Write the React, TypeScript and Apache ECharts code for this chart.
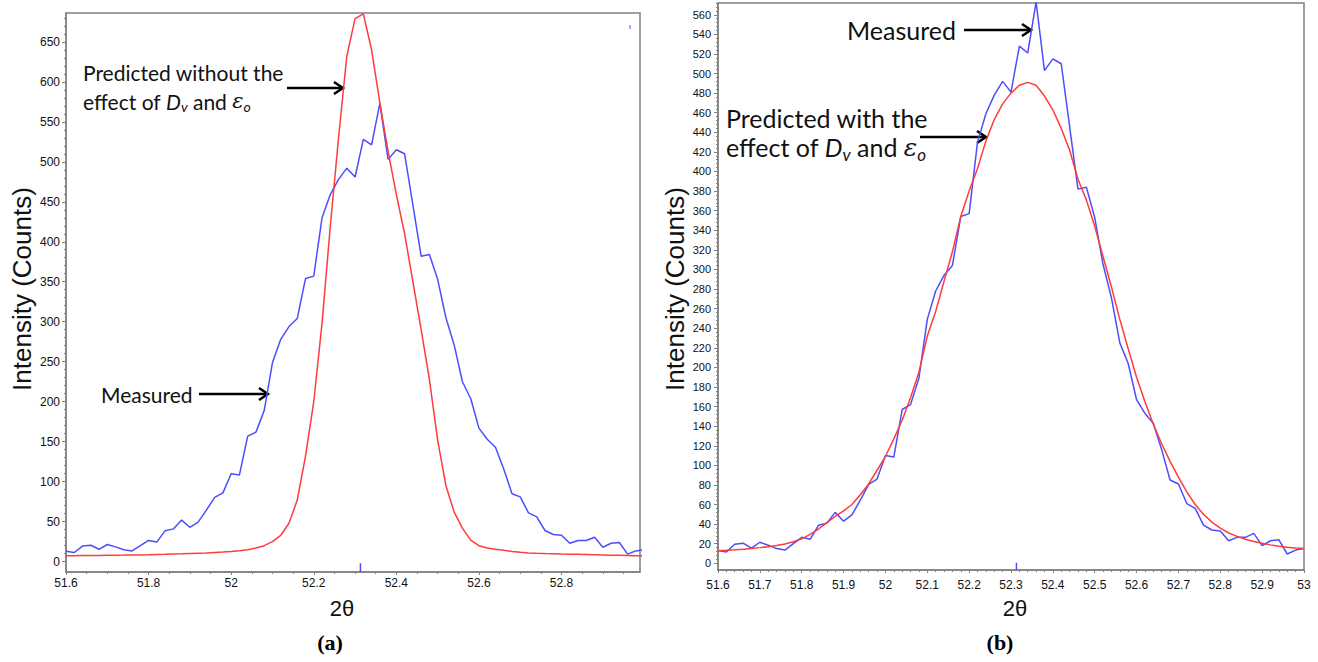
import React, { useEffect, useRef } from "react";
import * as echarts from "echarts";

// 2-theta sampling positions (degrees)
const theta = [
  51.6, 51.62, 51.64, 51.66, 51.68, 51.7, 51.72, 51.74, 51.76, 51.78,
  51.8, 51.82, 51.84, 51.86, 51.88, 51.9, 51.92, 51.94, 51.96, 51.98,
  52.0, 52.02, 52.04, 52.06, 52.08, 52.1, 52.12, 52.14, 52.16, 52.18,
  52.2, 52.22, 52.24, 52.26, 52.28, 52.3, 52.32, 52.34, 52.36, 52.38,
  52.4, 52.42, 52.44, 52.46, 52.48, 52.5, 52.52, 52.54, 52.56, 52.58,
  52.6, 52.62, 52.64, 52.66, 52.68, 52.7, 52.72, 52.74, 52.76, 52.78,
  52.8, 52.82, 52.84, 52.86, 52.88, 52.9, 52.92, 52.94, 52.96, 52.98,
  53.0,
];

// Measured intensity (counts) – same profile in both panels
const measured = [
  13, 11.5, 19.5, 20.5, 15.5, 21.5, 18.5, 15, 13.5, 20,
  26.5, 24.5, 38.8, 41, 52, 43, 49.5, 64.5, 80.5, 86,
  110, 108.5, 157, 162, 189, 249, 278, 294, 304, 354,
  357, 430, 459, 478, 492, 481, 528, 521, 573, 503,
  515, 510, 446, 382, 384, 353, 305, 271, 225, 204,
  167, 153, 143, 116, 85, 81, 61, 56, 39, 34,
  33, 23, 26.5, 26.5, 30.5, 18, 23, 24, 9.5, 13.5,
  15,
];

// (a) Predicted without the effect of Dv and eps_o
const predictedA = [
  7.5, 7.5, 7.6, 7.7, 7.8, 8.0, 8.1, 8.2, 8.4, 8.5,
  8.7, 9.0, 9.2, 9.5, 9.8, 10.2, 10.6, 11.0, 11.5, 12.0,
  12.8, 13.8, 15.0, 17, 20, 25, 33, 48, 77, 132,
  200, 298, 419, 530, 632, 679, 685, 640, 574, 513,
  459, 410, 350, 290, 228, 152, 95, 62, 42, 27,
  20, 17, 15.5, 14.3, 12.8, 11.8, 11.0, 10.5, 10.1, 9.8,
  9.5, 9.3, 9.2, 9.0, 8.7, 8.4, 8.1, 7.9, 7.7, 7.5,
  7.4,
];

// (b) Predicted with the effect of Dv and eps_o
const predictedB = [
  12.9, 13.3, 13.8, 14.4, 15.1, 16.0, 17.0, 18.2, 19.7, 22,
  25, 29.5, 35, 41.5, 48, 53.5, 60, 70, 81, 95,
  109, 127, 146, 169, 195, 232, 257, 288, 318, 354,
  380, 403, 431, 453, 469, 480, 488, 491, 488, 477,
  463, 444, 422, 392, 371, 344, 313, 282, 249, 219,
  190, 165, 142, 122, 104, 88, 73, 60, 50, 42,
  36, 31, 27.5, 24.5, 22.3, 20.5, 18.8, 17.3, 16.3, 15.5,
  15,
];

// peak-position marker
const markerTheta = 52.313;

// tick labels
const xTicksA = [51.6, 51.8, 52.0, 52.2, 52.4, 52.6, 52.8];
const yTicksA = [0, 50, 100, 150, 200, 250, 300, 350, 400, 450, 500, 550, 600, 650];
const xTicksB = [51.6, 51.7, 51.8, 51.9, 52.0, 52.1, 52.2, 52.3, 52.4, 52.5, 52.6, 52.7, 52.8, 52.9, 53.0];
const yTicksB = [
  0, 20, 40, 60, 80, 100, 120, 140, 160, 180, 200, 220, 240, 260, 280,
  300, 320, 340, 360, 380, 400, 420, 440, 460, 480, 500, 520, 540, 560,
];

const AXIS_GREY = "#808080";
const BLUE = "#4d4dff";
const RED = "#ff3b3b";
const TICK_FONT = "'Liberation Sans', Arial, sans-serif";
const NOTE_FONT = "Lato, 'Open Sans', sans-serif";

function steps(from: number, to: number, step: number): number[] {
  const out: number[] = [];
  const n = Math.round((to - from) / step);
  for (let i = 0; i <= n; i++) out.push(+(from + i * step).toFixed(4));
  return out;
}

const fmt = (v: number) => String(Math.round(v * 10) / 10);

function xAxes(gridIndex: number, min: number, max: number, labels: number[], minors: number[], margin: number) {
  return [
    {
      type: "value", gridIndex, min, max, position: "bottom",
      axisLine: { show: true, onZero: false, lineStyle: { color: AXIS_GREY, width: 1.5 } },
      axisTick: { show: true, customValues: labels, length: 3, lineStyle: { color: AXIS_GREY } },
      axisLabel: { customValues: labels, formatter: fmt, fontSize: 12, color: "#111", margin, fontFamily: TICK_FONT },
      splitLine: { show: false },
    },
    {
      type: "value", gridIndex, min, max, position: "bottom",
      axisLine: { show: false, onZero: false },
      axisTick: { show: true, customValues: minors, length: 2, lineStyle: { color: AXIS_GREY } },
      axisLabel: { show: false },
      splitLine: { show: false },
    },
  ];
}

function yAxes(gridIndex: number, min: number, max: number, labels: number[], minors: number[], fontSize: number, margin: number) {
  return [
    {
      type: "value", gridIndex, min, max, position: "left",
      axisLine: { show: true, onZero: false, lineStyle: { color: AXIS_GREY, width: 1.5 } },
      axisTick: { show: true, customValues: labels, length: 4, lineStyle: { color: AXIS_GREY } },
      axisLabel: { customValues: labels, fontSize, color: "#111", margin, fontFamily: TICK_FONT },
      splitLine: { show: false },
    },
    {
      type: "value", gridIndex, min, max, position: "left",
      axisLine: { show: false, onZero: false },
      axisTick: { show: true, customValues: minors, length: 2, lineStyle: { color: AXIS_GREY } },
      axisLabel: { show: false },
      splitLine: { show: false },
    },
  ];
}

function arrow(x1: number, x2: number, y: number) {
  return [
    { type: "line", shape: { x1, y1: y, x2: x2 - 1, y2: y }, style: { stroke: "#000", lineWidth: 2.5 } },
    {
      type: "polyline",
      shape: { points: [[x2 - 9, y - 6], [x2, y], [x2 - 9, y + 6]] },
      style: { stroke: "#000", lineWidth: 2.5, fill: null },
    },
  ];
}

function noteLine2(x: number, y: number, size: number) {
  const sub = Math.round(size * 0.68);
  const lh = size + 4;
  return {
    type: "text",
    x, y,
    style: {
      text: "{n|effect of }{i|D}{s|v}{n| and }{e|ε}{s|o}",
      verticalAlign: "middle",
      align: "left",
      rich: {
        n: { fontSize: size, fontFamily: NOTE_FONT, fill: "#111", lineHeight: lh },
        i: { fontSize: size, fontFamily: NOTE_FONT, fontStyle: "italic", fill: "#111", lineHeight: lh },
        e: { fontSize: size, fontFamily: "'DejaVu Serif', serif", fontStyle: "italic", fill: "#111", lineHeight: lh },
        s: {
          fontSize: sub, fontFamily: NOTE_FONT, fontStyle: "italic", fill: "#111",
          verticalAlign: "top", lineHeight: sub, padding: [Math.round(size * 0.5), 0, 0, 0],
        },
      },
    },
  };
}

function text(x: number, y: number, t: string, size: number, family: string) {
  return {
    type: "text", x, y,
    style: { text: t, fontSize: size, fontFamily: family, fill: "#111", align: "left", verticalAlign: "middle" },
  };
}

export default function App() {
  const ref = useRef<HTMLDivElement>(null);

  useEffect(() => {
    if (!ref.current) return;
    const chart = echarts.init(ref.current, null, { renderer: "svg" });

    const pair = (ys: number[]) => theta.map((t, i) => [t, ys[i]]);

    const yMinA = -12.9, yMaxA = 686;
    const yMinB = -6.84, yMaxB = 572;

    const option: any = {
      animation: false,
      backgroundColor: "#fff",
      grid: [
        { left: 66, top: 13, width: 574, height: 559, show: true, borderColor: AXIS_GREY, borderWidth: 1.5, containLabel: false, outerBoundsMode: "none" },
        { left: 718, top: 3, width: 586, height: 567, show: true, borderColor: AXIS_GREY, borderWidth: 1.5, containLabel: false, outerBoundsMode: "none" },
      ],
      xAxis: [
        ...xAxes(0, 51.6, 52.99, xTicksA, steps(51.6, 52.95, 0.05), 5),
        ...xAxes(1, 51.6, 53.0, xTicksB, steps(51.6, 53.0, 0.02), 9),
      ],
      yAxis: [
        ...yAxes(0, yMinA, yMaxA, yTicksA, steps(0, 680, 10), 12, 6),
        ...yAxes(1, yMinB, yMaxB, yTicksB, steps(0, 572, 4), 11, 7),
      ],
      series: [
        { type: "line", xAxisIndex: 0, yAxisIndex: 0, data: pair(measured), showSymbol: false, symbol: "none", lineStyle: { color: BLUE, width: 1.5 }, itemStyle: { color: BLUE }, z: 3 },
        { type: "line", xAxisIndex: 0, yAxisIndex: 0, data: pair(predictedA), showSymbol: false, symbol: "none", lineStyle: { color: RED, width: 1.5 }, itemStyle: { color: RED }, z: 4 },
        { type: "line", xAxisIndex: 0, yAxisIndex: 0, data: [[markerTheta, yMinA], [markerTheta, -2]], symbol: "none", lineStyle: { color: BLUE, width: 1.5 }, z: 5 },
        { type: "line", xAxisIndex: 2, yAxisIndex: 2, data: pair(measured), showSymbol: false, symbol: "none", lineStyle: { color: BLUE, width: 1.5 }, itemStyle: { color: BLUE }, z: 3 },
        { type: "line", xAxisIndex: 2, yAxisIndex: 2, data: pair(predictedB), showSymbol: false, symbol: "none", lineStyle: { color: RED, width: 1.5 }, itemStyle: { color: RED }, z: 4 },
        { type: "line", xAxisIndex: 2, yAxisIndex: 2, data: [[markerTheta, yMinB], [markerTheta, 0.5]], symbol: "none", lineStyle: { color: BLUE, width: 1.5 }, z: 5 },
      ],
      graphic: [
        // axis titles
        { type: "text", x: 22, y: 289, rotation: Math.PI / 2, style: { text: "Intensity (Counts)", fontSize: 26, fontFamily: TICK_FONT, fill: "#111", align: "center", verticalAlign: "middle" } },
        { type: "text", x: 675, y: 289, rotation: Math.PI / 2, style: { text: "Intensity (Counts)", fontSize: 26, fontFamily: TICK_FONT, fill: "#111", align: "center", verticalAlign: "middle" } },
        { type: "text", x: 342, y: 608, style: { text: "2θ", fontSize: 22, fontFamily: TICK_FONT, fill: "#111", align: "center", verticalAlign: "middle" } },
        { type: "text", x: 1015, y: 608, style: { text: "2θ", fontSize: 22, fontFamily: TICK_FONT, fill: "#111", align: "center", verticalAlign: "middle" } },
        { type: "text", x: 330, y: 642, style: { text: "(a)", fontSize: 22, fontWeight: "bold", fontFamily: "'Liberation Serif', serif", fill: "#000", align: "center", verticalAlign: "middle" } },
        { type: "text", x: 1000, y: 642, style: { text: "(b)", fontSize: 22, fontWeight: "bold", fontFamily: "'Liberation Serif', serif", fill: "#000", align: "center", verticalAlign: "middle" } },
        // small stray mark in panel (a)
        { type: "line", shape: { x1: 630, y1: 25, x2: 630, y2: 29 }, style: { stroke: BLUE, lineWidth: 1 } },
        // annotations (a)
        text(83, 72, "Predicted without the", 21, NOTE_FONT),
        noteLine2(83, 101, 21),
        ...arrow(287, 343, 88),
        text(101, 394, "Measured", 21, NOTE_FONT),
        ...arrow(199, 268, 394),
        // annotations (b)
        text(847, 30, "Measured", 25, NOTE_FONT),
        ...arrow(964, 1031, 30),
        text(726, 118, "Predicted with the", 25, NOTE_FONT),
        noteLine2(726, 147, 25),
        ...arrow(920, 986, 137),
      ],
    };

    chart.setOption(option);
    return () => chart.dispose();
  }, []);

  return <div ref={ref} style={{ position: "absolute", left: 0, top: 0, width: 1318, height: 662 }} />;
}
